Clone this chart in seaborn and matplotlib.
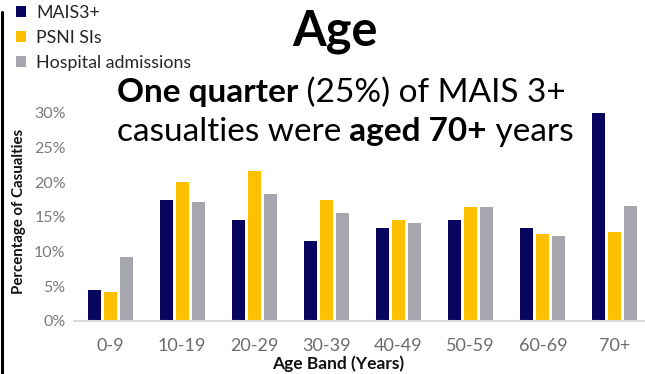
import matplotlib
matplotlib.use("Agg")
import matplotlib.pyplot as plt
import seaborn as sns
import pandas as pd
from matplotlib.lines import Line2D

# ---- data ----
age_bands = ["0-9", "10-19", "20-29", "30-39", "40-49", "50-59", "60-69", "70+"]
mais3 = [4.5, 17.5, 14.5, 11.5, 13.4, 14.6, 13.4, 30.0]
psni_sis = [4.2, 20.0, 21.6, 17.5, 14.5, 16.5, 12.5, 12.8]
hospital = [9.2, 17.1, 18.3, 15.6, 14.1, 16.4, 12.2, 16.6]
series_names = ["MAIS3+", "PSNI SIs", "Hospital admissions"]
colors = ["#06065f", "#ffc000", "#a6a6ae"]
y_ticks = [0, 5, 10, 15, 20, 25, 30]

df = pd.DataFrame({
    "Age Band": age_bands * 3,
    "Series": [series_names[0]] * 8 + [series_names[1]] * 8 + [series_names[2]] * 8,
    "Value": mais3 + psni_sis + hospital,
})

sns.set_theme(style="white")
plt.rcParams["font.family"] = ["Lato", "DejaVu Sans"]

W, H = 645, 374
fig = plt.figure(figsize=(W / 100, H / 100), dpi=100)
ax = fig.add_axes([74 / W, 1 - 321 / H, (651 - 74) / W, (321 - 113) / H])

sns.barplot(data=df, x="Age Band", y="Value", hue="Series", order=age_bands,
            hue_order=series_names, palette=colors, saturation=1,
            width=0.667, gap=0.19, edgecolor="none", linewidth=0, ax=ax)

ax.set_ylim(0, 30)
ax.set_xlim(-0.5, 7.5)
ax.set_yticks(y_ticks)
ax.set_yticklabels([f"{v}%" for v in y_ticks])
ax.tick_params(axis="y", length=0, pad=6, labelsize=11.5, labelcolor="#7a7a7a")
ax.tick_params(axis="x", length=0, pad=12, labelsize=13, labelcolor="#6b6b6b")
for s in ["left", "right", "top"]:
    ax.spines[s].set_visible(False)
ax.spines["bottom"].set_color("#d9d9d9")
ax.spines["bottom"].set_linewidth(1.5)
ax.set_xlabel("")
ax.set_ylabel("")
fig.text(338 / W, 1 - 364 / H, "Age Band (Years)", fontsize=12.5, fontweight="bold",
         color="#111111", ha="center", va="center")
fig.text(19 / W, 1 - 211 / H, "Percentage of Casualties", rotation=90, fontsize=10.8,
         fontweight="bold", color="#111111", ha="center", va="center")

# legend
handles, labels = ax.get_legend_handles_labels()
ax.get_legend().remove()
fig.legend(handles, labels, loc="upper left", bbox_to_anchor=(16 / W, 1 - 5 / H),
           frameon=False, fontsize=12.8, handlelength=0.55, handleheight=0.55,
           handletextpad=0.6, labelspacing=0.5, borderpad=0, borderaxespad=0)

# title
fig.text(335 / W, 1 - 45 / H, "Age", fontsize=35, fontweight="bold", ha="center",
         va="baseline", color="black")

# rich subtitle
renderer = fig.canvas.get_renderer()


def rich_line(x_px, y_px, pieces, size):
    x = x_px / W
    for s, weight in pieces:
        t = fig.text(x, 1 - y_px / H, s, fontsize=size, fontweight=weight,
                     ha="left", va="baseline", color="black")
        x += t.get_window_extent(renderer).width / fig.bbox.width


rich_line(117, 102, [("One quarter", "bold"), (" (25%) of MAIS 3+", "normal")], 24)
rich_line(117, 141, [("casualties were", "normal"), (" aged 70+", "bold"), (" years", "normal")], 24)

# left border line
fig.add_artist(Line2D([2 / W, 2 / W], [0, 1 - 12 / H], color="black", linewidth=2.2,
                      transform=fig.transFigure))

fig.savefig("out.png", dpi=100)
